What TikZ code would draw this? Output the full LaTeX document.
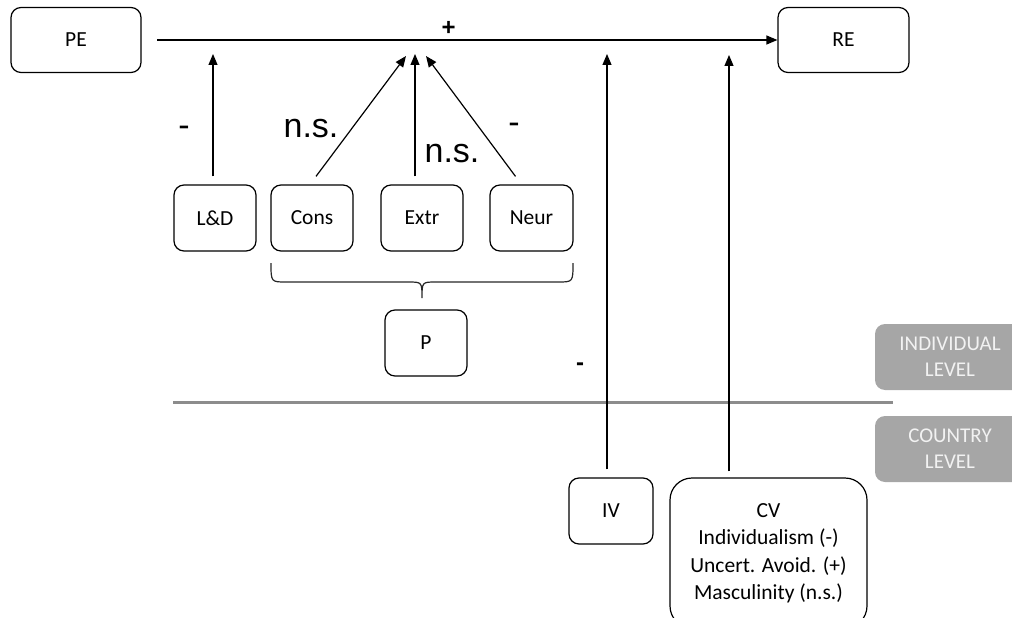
\documentclass[tikz,border=0pt]{standalone}
\usepackage{fontspec}
\setmainfont{Carlito}
\newfontfamily\labelfont{Liberation Sans}
\usetikzlibrary{arrows.meta}
\definecolor{levelgray}{HTML}{A6A6A6}
\definecolor{leveltext}{HTML}{F2F2F2}
\definecolor{divider}{HTML}{8C8C8C}
\tikzset{
  box/.style={draw, line width=1.2pt, rounded corners=10pt, inner sep=0pt,
    font=\fontsize{21.5}{26}\selectfont, align=center},
  levelbox/.style={fill=levelgray, rounded corners=10pt, inner sep=0pt,
    text=leveltext, font=\fontsize{21}{26}\selectfont, align=center,
    minimum width=150pt, minimum height=66pt},
  link/.style={line width=1.2pt, -{Triangle[length=11pt,width=9pt]}},
  sign/.style={font=\labelfont\fontsize{34}{34}\selectfont, inner sep=0pt},
}
\begin{document}
\begin{tikzpicture}[x=1pt,y=-1pt]
\useasboundingbox (0,0) rectangle (1012,618);

% outcome and predictor
\node[box, minimum width=130pt, minimum height=65pt] (pe) at (76,40) {PE};
\node[box, minimum width=131pt, minimum height=65pt] (re) at (843.5,40) {RE};
\coordinate (start) at (157,40);
\draw[link] (start) -- (re.west) node[pos=0.47, above=4pt, sign, font=\labelfont\fontsize{24}{24}\selectfont\bfseries] (plus) {+};

% individual-level moderators
\node[box, minimum width=82pt, minimum height=66pt] (ld) at (215,218) {L\&D};
\node[box, minimum width=82pt, minimum height=66pt] (cons) at (312,218) {Cons};
\node[box, minimum width=82pt, minimum height=66pt] (extr) at (422,218) {Extr};
\node[box, minimum width=83pt, minimum height=66pt] (neur) at (531.5,218) {Neur};
\node[box, minimum width=82pt, minimum height=66pt] (p) at (426,343) {P};

% arrow targets on the main path
\coordinate (tld) at (213,54);
\coordinate (tcons) at (406,56);
\coordinate (textr) at (415,54);
\coordinate (tneur) at (426,56);
\coordinate (tiv) at (607,54);
\coordinate (tcv) at (729,55);

\draw[link] ([yshift=8pt]ld.north -| tld) -- (tld);
\draw[link] ([xshift=4pt,yshift=8pt]cons.north) -- (tcons);
\draw[link] ([yshift=8pt]extr.north -| textr) -- (textr);
\draw[link] ([xshift=-16pt,yshift=8pt]neur.north) -- (tneur);

\node[sign] (sld) at (184,131) {-};
\node[sign] (scons) at (311,129) {n.s.};
\node[sign] (sextr) at (452,154) {n.s.};
\node[sign] (sneur) at (514,128) {-};

% brace grouping the personality traits into P
\draw[line width=1.2pt, black!85] (271,263) .. controls (271,282) and (271,282) .. (286,282)
  -- (408,282) .. controls (422,282) and (422,282) .. (422,298)
  .. controls (422,282) and (422,282) .. (436,282)
  -- (558,282) .. controls (573,282) and (573,282) .. (573,263);

% level divider and level tags
\coordinate (divl) at (173,402);
\coordinate (divr) at (893,402);
\draw[divider, line width=3pt] (divl) -- (divr);
\node[levelbox] (indiv) at (950,357) {INDIVIDUAL\\LEVEL};
\node[levelbox] (country) at (950,449) {COUNTRY\\LEVEL};

% country-level moderators (the cultural-values box runs off the bottom edge)
\node[box, minimum width=84pt, minimum height=66pt] (iv) at (611,511) {IV};
\node[box, minimum width=197pt, minimum height=150pt, rounded corners=22pt,
  font=\fontsize{21.5}{27.5}\selectfont] (cv) at (768.5,553)
  {CV\\Individualism (-)\\Uncert. Avoid. (+)\\Masculinity (n.s.)};
\draw[link] ([yshift=8pt]iv.north -| tiv) -- (tiv);
\draw[link] ([yshift=6pt]cv.north -| tcv) -- (tcv);
\node[sign, font=\labelfont\bfseries\fontsize{24}{24}\selectfont] (siv) at (580,367) {-};

\end{tikzpicture}
\end{document}
